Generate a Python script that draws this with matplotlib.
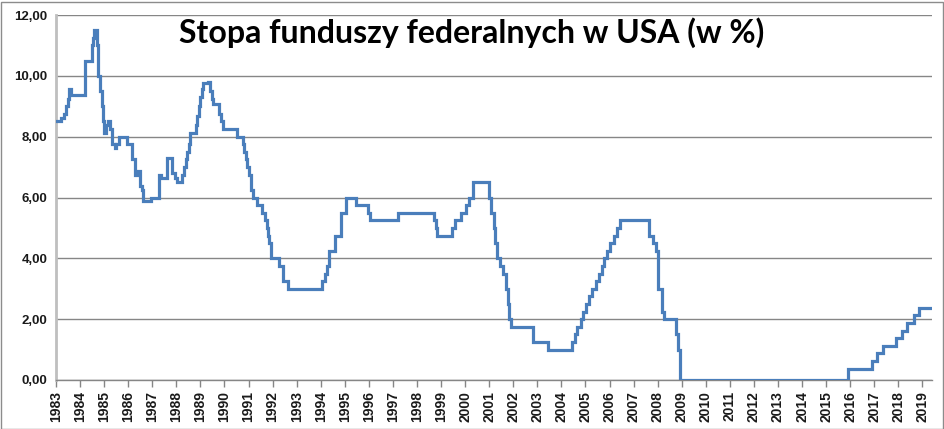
import matplotlib
matplotlib.use("Agg")
import matplotlib.pyplot as plt
from matplotlib.patches import Rectangle

# Change dates (decimal years) and federal funds target rate (%)
dates = [1983.00, 1983.21, 1983.33, 1983.42, 1983.48, 1983.52, 1983.61,
         1984.21, 1984.48, 1984.53, 1984.57, 1984.69, 1984.72, 1984.75,
         1984.83, 1984.91, 1984.95, 1985.00, 1985.08, 1985.15, 1985.26,
         1985.33, 1985.44, 1985.50, 1985.61, 1985.95, 1986.17, 1986.28,
         1986.37, 1986.49, 1986.56, 1986.62, 1986.95, 1987.29, 1987.38,
         1987.63, 1987.81, 1987.95, 1988.04, 1988.25, 1988.33, 1988.40,
         1988.46, 1988.52, 1988.57, 1988.80, 1988.86, 1988.93, 1988.99,
         1989.06, 1989.10, 1989.33, 1989.40, 1989.48, 1989.54, 1989.79,
         1989.85, 1989.93, 1990.51, 1990.76, 1990.83, 1990.90, 1990.95,
         1991.01, 1991.09, 1991.19, 1991.35, 1991.58, 1991.70, 1991.78,
         1991.82, 1991.86, 1991.93, 1992.25, 1992.45, 1992.66, 1994.04,
         1994.18, 1994.28, 1994.36, 1994.60, 1994.85, 1995.04, 1995.47,
         1995.95, 1996.05, 1997.20, 1998.72, 1998.79, 1998.85, 1999.45,
         1999.58, 1999.82, 2000.04, 2000.18, 2000.32, 2001.01, 2001.07,
         2001.18, 2001.25, 2001.34, 2001.45, 2001.59, 2001.69, 2001.77,
         2001.84, 2001.90, 2002.81, 2003.44, 2004.43, 2004.55, 2004.66,
         2004.80, 2004.90, 2005.03, 2005.16, 2005.29, 2005.44, 2005.55,
         2005.67, 2005.78, 2005.90, 2006.03, 2006.19, 2006.31, 2006.44,
         2007.66, 2007.80, 2007.94, 2008.01, 2008.03, 2008.17, 2008.27,
         2008.77, 2008.84, 2008.93, 2015.93, 2016.90, 2017.11, 2017.38,
         2017.90, 2018.17, 2018.36, 2018.67, 2018.88, 2019.40]

rates = [8.50, 8.625, 8.75, 9.00, 9.25, 9.5625, 9.375,
         10.50, 11.00, 11.25, 11.50, 11.25, 11.00, 10.00,
         9.50, 9.00, 8.50, 8.125, 8.375, 8.50, 8.25,
         7.75, 7.625, 7.75, 8.00, 7.75, 7.25, 6.75,
         6.875, 6.375, 6.25, 5.875, 6.00, 6.75, 6.625,
         7.3125, 6.8125, 6.625, 6.50, 6.75, 7.00, 7.25,
         7.50, 7.75, 8.125, 8.375, 8.6875, 9.00, 9.3125,
         9.5625, 9.75, 9.8125, 9.50, 9.25, 9.0625, 8.75,
         8.50, 8.25, 8.00, 7.75, 7.50, 7.25, 7.00,
         6.75, 6.25, 6.00, 5.75, 5.50, 5.25, 5.00,
         4.75, 4.50, 4.00, 3.75, 3.25, 3.00, 3.25,
         3.50, 3.75, 4.25, 4.75, 5.50, 6.00, 5.75,
         5.50, 5.25, 5.50, 5.25, 5.00, 4.75, 5.00,
         5.25, 5.50, 5.75, 6.00, 6.50, 6.00, 5.50,
         5.00, 4.50, 4.00, 3.75, 3.50, 3.00, 2.50,
         2.00, 1.75, 1.25, 1.00, 1.25, 1.50, 1.75,
         2.00, 2.25, 2.50, 2.75, 3.00, 3.25, 3.50,
         3.75, 4.00, 4.25, 4.50, 4.75, 5.00, 5.25,
         4.75, 4.50, 4.25, 3.50, 3.00, 2.25, 2.00,
         1.50, 1.00, 0.00, 0.375, 0.625, 0.875, 1.125,
         1.375, 1.625, 1.875, 2.125, 2.375, 2.375]

years = list(range(1983, 2020))
year_labels = [str(y) for y in years]
y_ticks = [0, 2, 4, 6, 8, 10, 12]
y_labels = ["0,00", "2,00", "4,00", "6,00", "8,00", "10,00", "12,00"]
title = "Stopa funduszy federalnych w USA (w %)"

W, H = 945, 429
fig = plt.figure(figsize=(W / 100, H / 100), dpi=100)
ax = fig.add_axes([56 / W, (H - 380) / H, (932 - 56) / W, (380 - 15) / H])

ax.step(dates, rates, where="post", color="#4a7ebb", lw=2.3, zorder=3,
        solid_joinstyle="miter")

ax.set_xlim(1983, 2019.40)
ax.set_ylim(0, 12)
ax.set_yticks(y_ticks)
ax.set_yticklabels(y_labels, fontfamily="Liberation Sans", fontweight="bold",
                   fontsize=9.5, color="#1a1a1a")
ax.set_xticks(years)
ax.set_xticklabels(year_labels, rotation=90, fontfamily="Liberation Sans",
                   fontweight="bold", fontsize=10, color="#1a1a1a")

ax.grid(axis="y", color="#868686", lw=1.0, zorder=1)
ax.set_axisbelow(True)
for s in ["top", "right"]:
    ax.spines[s].set_visible(False)
ax.spines["left"].set_color("#bfbfbf")
ax.spines["left"].set_linewidth(2.0)
ax.spines["bottom"].set_color("#868686")
ax.spines["bottom"].set_linewidth(1.0)
ax.tick_params(axis="y", length=0, pad=6)
ax.tick_params(axis="x", direction="out", length=5, width=1.0,
               color="#868686", pad=3)

fig.text(472 / W, (H - 33) / H, title, ha="center", va="center",
         fontfamily="Lato", fontweight="bold", fontsize=23, color="black")

fig.patches.append(Rectangle((0.5 / W, 0.5 / H), (W - 2) / W, (H - 2.5) / H,
                             transform=fig.transFigure, fill=False,
                             edgecolor="#8c8c8c", lw=1.0))

fig.savefig("out.png", dpi=100)
